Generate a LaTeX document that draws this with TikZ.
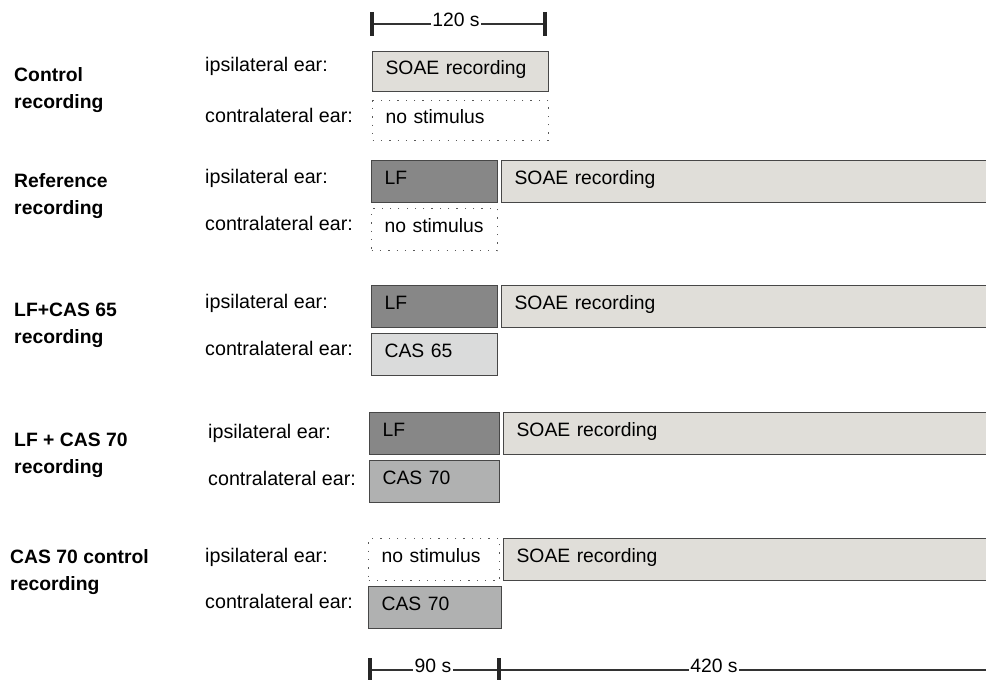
\documentclass[tikz,border=0pt]{standalone}
\usepackage{fontspec}
\setmainfont{Liberation Sans}
\usetikzlibrary{calc}

\tikzset{
  txt/.style={font=\fontsize{16.5}{20}\selectfont, inner sep=0pt},
  title/.style={font=\fontsize{16.5}{23}\selectfont\bfseries, align=left, inner sep=0pt, anchor=west},
  ear/.style={font=\fontsize{16.8}{20}\selectfont, inner sep=0pt, anchor=west},
  box/.style={draw=black!72, line width=1pt, anchor=north west, minimum height=1.26cm,
              font=\fontsize{16.5}{20}\selectfont, align=left, inner xsep=0.39cm, inner ysep=0pt,
              text height=0.45cm, text depth=0.25cm},
  nostim/.style={box, draw=black!65, line width=1.1pt, dash pattern=on 1.1pt off 6pt},
  soae/.style={box, fill=soaecol, text width=14.22cm},
  lf/.style={box, fill=lfcol},
  bartick/.style={line width=3pt, black!85},
  scaleline/.style={line width=0.9pt, black!80}
}
\definecolor{soaecol}{HTML}{E0DED9}
\definecolor{lfcol}{HTML}{878787}
\definecolor{cas65col}{HTML}{DADBDB}
\definecolor{cas70col}{HTML}{B0B1B1}

\begin{document}
\begin{tikzpicture}[x=0.03cm, y=-0.03cm]
  \useasboundingbox (0,0) rectangle (986,680);
  \clip (0,0) rectangle (986,680);

  % top scale
  \coordinate (ta) at (372,24);
  \coordinate (tb) at (545,24);
  \draw[scaleline] (ta) -- (tb);
  \draw[bartick] ($(ta)+(0,-12)$) -- ($(ta)+(0,12)$);
  \draw[bartick] ($(tb)+(0,-12)$) -- ($(tb)+(0,12)$);
  \node[txt, fill=white, inner xsep=1.5pt] (t120) at (456,20) {120 s};

  % Control recording
  \node[title] (c1) at (14,90) {Control\\recording};
  \node[ear] (c1i) at (205,66) {ipsilateral ear:};
  \node[ear] (c1c) at (205,115) {contralateral ear:};
  \node[soae, text width=4.5cm, minimum height=1.2cm] (c1s) at (372,51) {SOAE recording};
  \node[nostim, text width=4.5cm, minimum height=1.2cm] (c1n) at (372,100) {no stimulus};

  % Reference recording
  \node[title] (c2) at (14,196) {Reference\\recording};
  \node[ear] (c2i) at (205,178) {ipsilateral ear:};
  \node[ear] (c2c) at (205,223) {contralateral ear:};
  \node[lf, text width=3cm] (c2l) at (371,160) {LF};
  \node[soae] (c2s) at (501,160) {SOAE recording};
  \node[nostim, text width=3cm] (c2n) at (371,208) {\mbox{no stimulus}};

  % LF+CAS 65
  \node[title] (c3) at (14,325) {LF+CAS 65\\recording};
  \node[ear] (c3i) at (205,303) {ipsilateral ear:};
  \node[ear] (c3c) at (205,348) {contralateral ear:};
  \node[lf, text width=3cm] (c3l) at (371,285) {LF};
  \node[soae] (c3s) at (501,285) {SOAE recording};
  \node[box, fill=cas65col, text width=3cm] (c3a) at (371,333) {CAS 65};

  % LF + CAS 70
  \node[title] (c4) at (14,455) {LF + CAS 70\\recording};
  \node[ear] (c4i) at (208,433) {ipsilateral ear:};
  \node[ear] (c4c) at (208,478) {contralateral ear:};
  \node[lf, text width=3.12cm] (c4l) at (369,412) {LF};
  \node[soae] (c4s) at (503,412) {SOAE recording};
  \node[box, fill=cas70col, text width=3.12cm] (c4a) at (369,460) {CAS 70};

  % CAS 70 control
  \node[title] (c5) at (10,572) {CAS 70 control\\recording};
  \node[ear] (c5i) at (205,557) {ipsilateral ear:};
  \node[ear] (c5c) at (205,601) {contralateral ear:};
  \node[nostim, text width=3.15cm] (c5n) at (368,538) {\mbox{no stimulus}};
  \node[soae] (c5s) at (503,538) {SOAE recording};
  \node[box, fill=cas70col, text width=3.21cm] (c5a) at (368,586) {CAS 70};

  % bottom scale
  \coordinate (ba) at (370,670);
  \coordinate (bb) at (499,670);
  \coordinate (bc) at (990,670);
  \draw[scaleline] (ba) -- (bc);
  \draw[bartick] ($(ba)+(0,-12)$) -- ($(ba)+(0,14)$);
  \draw[bartick] ($(bb)+(0,-12)$) -- ($(bb)+(0,14)$);
  \node[txt, fill=white, inner xsep=1.5pt] (b90) at (433,666) {90 s};
  \node[txt, fill=white, inner xsep=1.5pt] (b420) at (714,666) {420 s};
\end{tikzpicture}
\end{document}
